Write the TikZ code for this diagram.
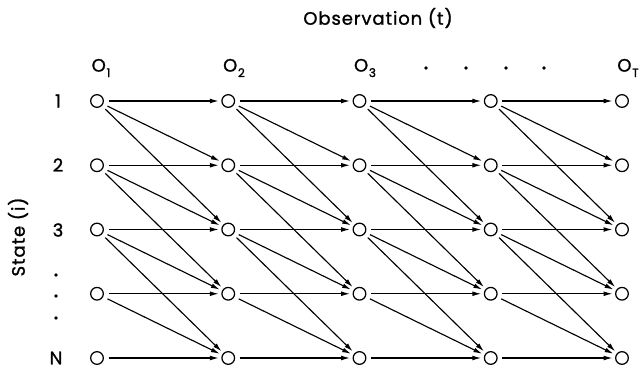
\documentclass[tikz,border=0pt]{standalone}
\usepackage{fontspec}
\setmainfont[LetterSpace=5,FakeBold=1.2]{Poppins}
\usetikzlibrary{arrows.meta}

\newcommand{\obs}[1]{O\kern0.5pt\raisebox{-0.55ex}{\small #1}}

\begin{document}
\begin{tikzpicture}[
			x=0.75pt, y=-0.75pt,
			state/.style={
				draw,
				circle,
				inner sep=0pt,
				minimum size=9.5pt,
				line width=0.95pt
			},
			trans/.style={
				->,
				line width=0.85pt,
				shorten <=3.5pt,
				shorten >=2pt
			},
			dot/.style={circle, fill, inner sep=0pt, minimum size=2.8pt},
			lbl/.style={font=\fontsize{13.5}{15}\selectfont},
			>={Latex[length=6.5pt,width=3.6pt]}
			]
			\useasboundingbox (0,0) rectangle (643,373);
			
			% trellis of states
			\foreach \c in {1,...,5}
				\foreach \r in {1,...,5}
					\node[state] (s\c\r) at ({97+131.25*(\c-1)}, {101+64.25*(\r-1)}) {};
			
			% transitions i -> i, i+1, i+2
			\foreach \c in {1,...,4}{
				\pgfmathtruncatemacro\nxt{\c+1}
				\foreach \r in {1,...,5}
					\foreach \d in {0,1,2}{
						\pgfmathtruncatemacro\dst{\r+\d}
						\ifnum\dst<6 \draw[trans] (s\c\r) -- (s\nxt\dst); \fi
					}
			}
			
			% observations
			\node[lbl] (o1) at (101,68) {\obs{1}};
			\node[lbl] (o2) at (234,68) {\obs{2}};
			\node[lbl] (o3) at (365,68) {\obs{3}};
			\node[lbl] (oT) at (628,68) {\obs{T}};
			\foreach \x [count=\i] in {426,466,506,544}
				\node[dot] (od\i) at (\x,68) {};
			\node[lbl] (obs) at (378,18) {Observation (t)};
			
			% states
			\node[lbl] (r1) at (58,101) {1};
			\node[lbl] (r2) at (58,165) {2};
			\node[lbl] (r3) at (58,230) {3};
			\foreach \y [count=\i] in {275,296,318}
				\node[dot] (rd\i) at (56,\y) {};
			\node[lbl] (rN) at (56,358) {N};
			\node[lbl,rotate=90] (st) at (18,237) {State (i)};
			
		\end{tikzpicture}
\end{document}
